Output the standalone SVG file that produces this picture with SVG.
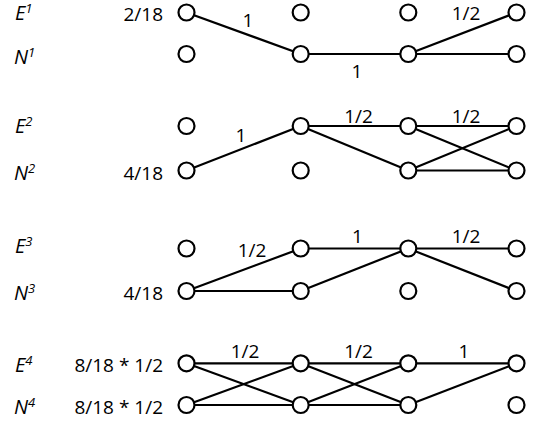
<svg xmlns="http://www.w3.org/2000/svg" width="535" height="424" viewBox="0 0 535 424">
<style>
.n{fill:#fff;stroke:#000;stroke-width:2.2}
.e{stroke:#000;stroke-width:2.2;fill:none}
.t{font-family:"Open Sans","Liberation Sans",sans-serif;font-size:19px;fill:#000}
.l{font-family:"Open Sans","Liberation Sans",sans-serif;font-size:20px;font-style:italic;fill:#000}
.s{font-size:13px}
.w{text-anchor:end}
.m{text-anchor:middle}
</style>
<rect width="535" height="424" fill="#fff"/>
<g id="connectors" class="e">
<line x1="186.5" y1="12.5" x2="300.7" y2="54"/>
<line x1="300.7" y1="54" x2="408.3" y2="54"/>
<line x1="408.3" y1="54" x2="516.5" y2="12.5"/>
<line x1="408.3" y1="54" x2="516.5" y2="54"/>
<line x1="186.5" y1="170.5" x2="300.7" y2="126"/>
<line x1="300.7" y1="126" x2="408.3" y2="126"/>
<line x1="300.7" y1="126" x2="408.3" y2="170.5"/>
<line x1="408.3" y1="126" x2="516.5" y2="126"/>
<line x1="408.3" y1="126" x2="516.5" y2="170.5"/>
<line x1="408.3" y1="170.5" x2="516.5" y2="126"/>
<line x1="408.3" y1="170.5" x2="516.5" y2="170.5"/>
<line x1="186.5" y1="291" x2="300.7" y2="248.5"/>
<line x1="186.5" y1="291" x2="300.7" y2="291"/>
<line x1="300.7" y1="248.5" x2="408.3" y2="248.5"/>
<line x1="300.7" y1="291" x2="408.3" y2="248.5"/>
<line x1="408.3" y1="248.5" x2="516.5" y2="248.5"/>
<line x1="408.3" y1="248.5" x2="516.5" y2="291"/>
<line x1="186.5" y1="363.3" x2="300.7" y2="363.3"/>
<line x1="186.5" y1="363.3" x2="300.7" y2="405"/>
<line x1="186.5" y1="405" x2="300.7" y2="363.3"/>
<line x1="186.5" y1="405" x2="300.7" y2="405"/>
<line x1="300.7" y1="363.3" x2="408.3" y2="363.3"/>
<line x1="300.7" y1="363.3" x2="408.3" y2="405"/>
<line x1="300.7" y1="405" x2="408.3" y2="363.3"/>
<line x1="300.7" y1="405" x2="408.3" y2="405"/>
<line x1="408.3" y1="363.3" x2="516.5" y2="363.3"/>
<line x1="408.3" y1="405" x2="516.5" y2="363.3"/>
</g>
<g id="edge-labels" class="t m">
<text x="248" y="27">1</text>
<text x="466" y="20">1/2</text>
<text x="357" y="78">1</text>
<text x="241" y="142">1</text>
<text x="358.5" y="123">1/2</text>
<text x="466" y="123">1/2</text>
<text x="252" y="257">1/2</text>
<text x="357.5" y="243">1</text>
<text x="466" y="243">1/2</text>
<text x="245" y="358">1/2</text>
<text x="358.5" y="358">1/2</text>
<text x="464" y="358">1</text>
</g>
<g id="row-labels" class="l">
<text x="15" y="20">E<tspan class="s" dy="-7">1</tspan></text>
<text x="14" y="64">N<tspan class="s" dy="-7">1</tspan></text>
<text x="15" y="133">E<tspan class="s" dy="-7">2</tspan></text>
<text x="14" y="180">N<tspan class="s" dy="-7">2</tspan></text>
<text x="15" y="253">E<tspan class="s" dy="-7">3</tspan></text>
<text x="14" y="300">N<tspan class="s" dy="-7">3</tspan></text>
<text x="15" y="372">E<tspan class="s" dy="-7">4</tspan></text>
<text x="14" y="414">N<tspan class="s" dy="-7">4</tspan></text>
</g>
<g id="weights" class="t w">
<text x="163" y="20.5">2/18</text>
<text x="163" y="180">4/18</text>
<text x="163" y="300">4/18</text>
<text x="163" y="372">8/18 * 1/2</text>
<text x="163" y="414">8/18 * 1/2</text>
</g>
<g id="n-E1-1"><circle class="n" cx="186.5" cy="12.5" r="8"/></g>
<g id="n-E1-2"><circle class="n" cx="300.7" cy="12.5" r="8"/></g>
<g id="n-E1-3"><circle class="n" cx="408.3" cy="12.5" r="8"/></g>
<g id="n-E1-4"><circle class="n" cx="516.5" cy="12.5" r="8"/></g>
<g id="n-N1-1"><circle class="n" cx="186.5" cy="54" r="8"/></g>
<g id="n-N1-2"><circle class="n" cx="300.7" cy="54" r="8"/></g>
<g id="n-N1-3"><circle class="n" cx="408.3" cy="54" r="8"/></g>
<g id="n-N1-4"><circle class="n" cx="516.5" cy="54" r="8"/></g>
<g id="n-E2-1"><circle class="n" cx="186.5" cy="126" r="8"/></g>
<g id="n-E2-2"><circle class="n" cx="300.7" cy="126" r="8"/></g>
<g id="n-E2-3"><circle class="n" cx="408.3" cy="126" r="8"/></g>
<g id="n-E2-4"><circle class="n" cx="516.5" cy="126" r="8"/></g>
<g id="n-N2-1"><circle class="n" cx="186.5" cy="170.5" r="8"/></g>
<g id="n-N2-2"><circle class="n" cx="300.7" cy="170.5" r="8"/></g>
<g id="n-N2-3"><circle class="n" cx="408.3" cy="170.5" r="8"/></g>
<g id="n-N2-4"><circle class="n" cx="516.5" cy="170.5" r="8"/></g>
<g id="n-E3-1"><circle class="n" cx="186.5" cy="248.5" r="8"/></g>
<g id="n-E3-2"><circle class="n" cx="300.7" cy="248.5" r="8"/></g>
<g id="n-E3-3"><circle class="n" cx="408.3" cy="248.5" r="8"/></g>
<g id="n-E3-4"><circle class="n" cx="516.5" cy="248.5" r="8"/></g>
<g id="n-N3-1"><circle class="n" cx="186.5" cy="291" r="8"/></g>
<g id="n-N3-2"><circle class="n" cx="300.7" cy="291" r="8"/></g>
<g id="n-N3-3"><circle class="n" cx="408.3" cy="291" r="8"/></g>
<g id="n-N3-4"><circle class="n" cx="516.5" cy="291" r="8"/></g>
<g id="n-E4-1"><circle class="n" cx="186.5" cy="363.3" r="8"/></g>
<g id="n-E4-2"><circle class="n" cx="300.7" cy="363.3" r="8"/></g>
<g id="n-E4-3"><circle class="n" cx="408.3" cy="363.3" r="8"/></g>
<g id="n-E4-4"><circle class="n" cx="516.5" cy="363.3" r="8"/></g>
<g id="n-N4-1"><circle class="n" cx="186.5" cy="405" r="8"/></g>
<g id="n-N4-2"><circle class="n" cx="300.7" cy="405" r="8"/></g>
<g id="n-N4-3"><circle class="n" cx="408.3" cy="405" r="8"/></g>
<g id="n-N4-4"><circle class="n" cx="516.5" cy="405" r="8"/></g>
</svg>
